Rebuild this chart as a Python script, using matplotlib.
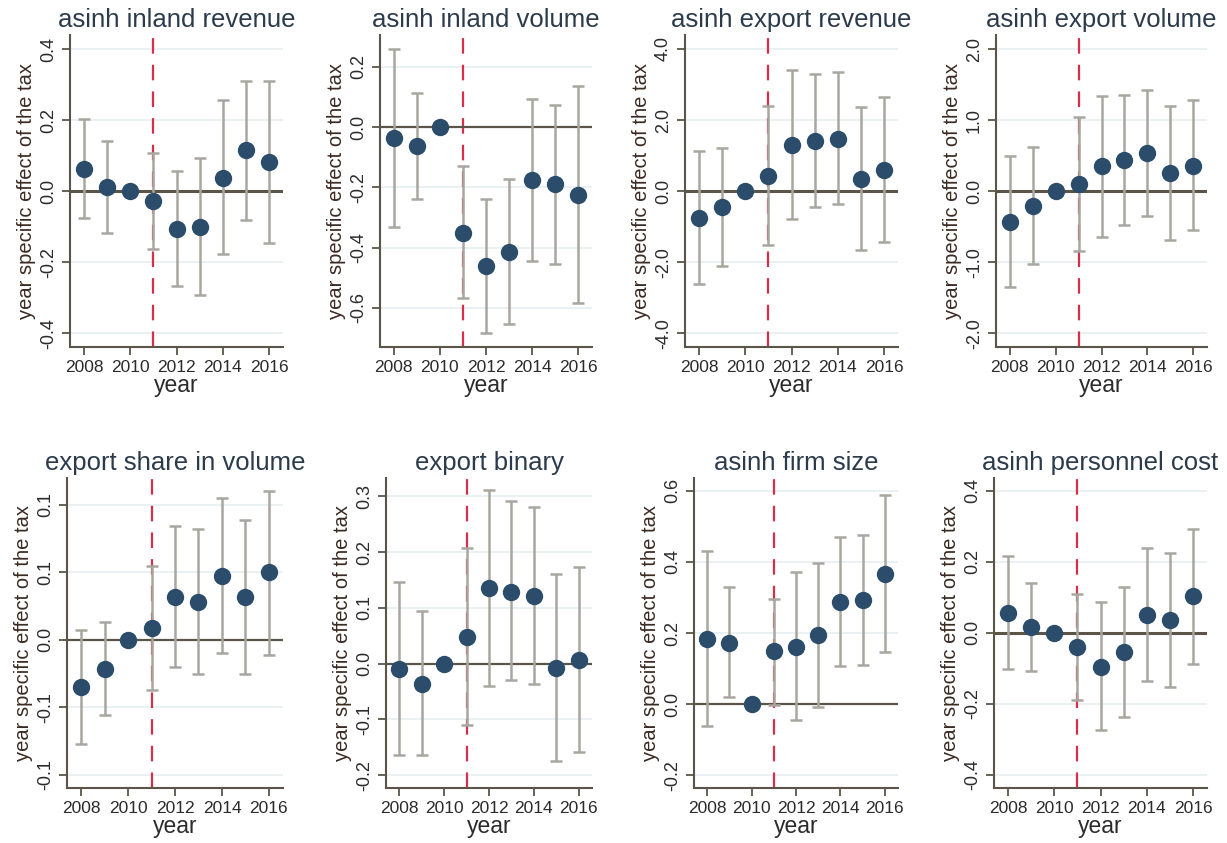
import matplotlib
matplotlib.use("Agg")
import matplotlib.pyplot as plt
from matplotlib.ticker import FormatStrFormatter
import numpy as np

plt.rcParams['font.family'] = ['Liberation Sans', 'DejaVu Sans']

years = [2008, 2009, 2010, 2011, 2012, 2013, 2014, 2015, 2016]
titles = ["asinh inland revenue", "asinh inland volume", "asinh export revenue",
          "asinh export volume", "export share in volume", "export binary",
          "asinh firm size", "asinh personnel cost"]

inland_rev = [0.064, 0.012, 0.0, -0.028, -0.105, -0.100, 0.038, 0.115, 0.083]
inland_rev_hi = [0.204, 0.142, 0.0, 0.109, 0.057, 0.094, 0.256, 0.310, 0.310]
inland_rev_lo = [-0.074, -0.116, 0.0, -0.163, -0.266, -0.293, -0.177, -0.082, -0.144]

inland_vol = [-0.035, -0.063, 0.0, -0.350, -0.462, -0.413, -0.175, -0.189, -0.225]
inland_vol_hi = [0.261, 0.114, 0.0, -0.129, -0.239, -0.171, 0.094, 0.075, 0.135]
inland_vol_lo = [-0.331, -0.238, 0.0, -0.567, -0.684, -0.655, -0.445, -0.453, -0.584]

export_rev = [-0.75, -0.44, 0.0, 0.44, 1.31, 1.42, 1.48, 0.35, 0.60]
export_rev_hi = [1.13, 1.22, 0.0, 2.39, 3.40, 3.29, 3.35, 2.37, 2.65]
export_rev_lo = [-2.62, -2.10, 0.0, -1.52, -0.77, -0.44, -0.36, -1.65, -1.44]

export_vol = [-0.43, -0.20, 0.0, 0.10, 0.35, 0.44, 0.54, 0.26, 0.36]
export_vol_hi = [0.50, 0.62, 0.0, 1.05, 1.34, 1.35, 1.43, 1.20, 1.29]
export_vol_lo = [-1.35, -1.02, 0.0, -0.84, -0.64, -0.47, -0.35, -0.68, -0.55]

export_share = [-0.0354, -0.0215, 0.0, 0.0087, 0.0319, 0.0282, 0.0475, 0.0317, 0.0500]
export_share_hi = [0.0069, 0.0129, 0.0, 0.0547, 0.0847, 0.0824, 0.1052, 0.0891, 0.1106]
export_share_lo = [-0.0777, -0.0557, 0.0, -0.0376, -0.0203, -0.0255, -0.0099, -0.0255, -0.0114]

export_bin = [-0.010, -0.036, 0.0, 0.048, 0.135, 0.129, 0.122, -0.008, 0.007]
export_bin_hi = [0.146, 0.094, 0.0, 0.207, 0.311, 0.292, 0.281, 0.161, 0.174]
export_bin_lo = [-0.163, -0.163, 0.0, -0.110, -0.040, -0.030, -0.036, -0.174, -0.159]

firm_size = [0.184, 0.173, 0.0, 0.148, 0.162, 0.195, 0.288, 0.293, 0.367]
firm_size_hi = [0.430, 0.329, 0.0, 0.296, 0.371, 0.398, 0.471, 0.475, 0.588]
firm_size_lo = [-0.063, 0.019, 0.0, -0.002, -0.046, -0.008, 0.106, 0.110, 0.146]

pers_cost = [0.055, 0.015, 0.0, -0.040, -0.096, -0.054, 0.051, 0.036, 0.102]
pers_cost_hi = [0.216, 0.139, 0.0, 0.109, 0.085, 0.129, 0.239, 0.224, 0.293]
pers_cost_lo = [-0.102, -0.108, 0.0, -0.190, -0.275, -0.237, -0.137, -0.154, -0.087]

ylims = [(-0.438, 0.44), (-0.73, 0.306), (-4.38, 4.39), (-2.19, 2.2),
         (-0.110, 0.120), (-0.223, 0.333), (-0.236, 0.636), (-0.438, 0.436)]
yticks = [[-0.4, -0.2, 0.0, 0.2, 0.4], [-0.6, -0.4, -0.2, 0.0, 0.2],
          [-4.0, -2.0, 0.0, 2.0, 4.0], [-2.0, -1.0, 0.0, 1.0, 2.0],
          [-0.10, -0.05, 0.0, 0.05, 0.10], [-0.2, -0.1, 0.0, 0.1, 0.2, 0.3],
          [-0.2, 0.0, 0.2, 0.4, 0.6], [-0.4, -0.2, 0.0, 0.2, 0.4]]

series = [(inland_rev, inland_rev_lo, inland_rev_hi),
          (inland_vol, inland_vol_lo, inland_vol_hi),
          (export_rev, export_rev_lo, export_rev_hi),
          (export_vol, export_vol_lo, export_vol_hi),
          (export_share, export_share_lo, export_share_hi),
          (export_bin, export_bin_lo, export_bin_hi),
          (firm_size, firm_size_lo, firm_size_hi),
          (pers_cost, pers_cost_lo, pers_cost_hi)]

W, H = 1227, 843
fig = plt.figure(figsize=(W / 100, H / 100), dpi=100)
fig.patch.set_facecolor('white')

# axes boxes in pixels: left, right, top, bottom
boxes = [(70, 283, 35, 347), (380, 592, 35, 347), (685, 898, 35, 347), (996, 1207, 35, 347),
         (67, 283, 478, 788), (386, 592, 478, 788), (694, 898, 478, 788), (994, 1207, 478, 788)]

spine_c = '#5a5548'
txt_c = '#2b2b2b'
title_c = '#2c3b4c'
marker_c = '#2b4d6b'
err_c = '#a8a69e'
grid_c = '#e6eff1'

for i, (box, title, (vals, lo, hi)) in enumerate(zip(boxes, titles, series)):
    l, r, t, b = box
    ax = fig.add_axes([l / W, 1 - b / H, (r - l) / W, (b - t) / H])
    ax.set_xlim(2007.4, 2016.6)
    ax.set_ylim(*ylims[i])
    ax.set_yticks(yticks[i])
    for yt in yticks[i]:
        if yt != 0:
            ax.axhline(yt, color=grid_c, lw=1.2, zorder=0)
    ax.axvline(2011, color='#d62f4b', lw=1.6, dashes=(7, 5), zorder=1)
    ax.axhline(0, color=spine_c, lw=2.2 if i in (0, 2, 3, 7) else 1.6, zorder=2)
    v = np.array(vals); lo_a = np.array(lo); hi_a = np.array(hi)
    yrs = np.array(years)
    mask = yrs != 2010
    ax.errorbar(yrs[mask], v[mask], yerr=[v[mask] - lo_a[mask], hi_a[mask] - v[mask]],
                fmt='none', ecolor=err_c, elinewidth=1.8, capsize=4.5, capthick=1.8, zorder=3)
    ax.plot(yrs, v, 'o', color=marker_c, markersize=12.5, markeredgewidth=0, zorder=4)
    ax.set_xticks([2008, 2010, 2012, 2014, 2016])
    ax.yaxis.set_major_formatter(FormatStrFormatter('%.1f'))
    for s in ['top', 'right']:
        ax.spines[s].set_visible(False)
    for s in ['left', 'bottom']:
        ax.spines[s].set_color(spine_c)
        ax.spines[s].set_linewidth(1.5)
    ax.tick_params(axis='both', colors=spine_c, length=6, width=1.3, labelcolor=txt_c)
    ax.tick_params(axis='x', labelsize=12.5)
    ax.tick_params(axis='y', labelsize=13)
    for lab in ax.get_yticklabels():
        lab.set_rotation(90)
        lab.set_va('center')
    ax.set_title(title, fontsize=18.5, color=title_c, pad=6)
    ax.set_xlabel('year', fontsize=16.5, color=txt_c, labelpad=-1)
    ax.set_ylabel('year specific effect of the tax', fontsize=14.5, color='#3a2a22', labelpad=3)

fig.savefig('out.png', dpi=100, facecolor='white')
